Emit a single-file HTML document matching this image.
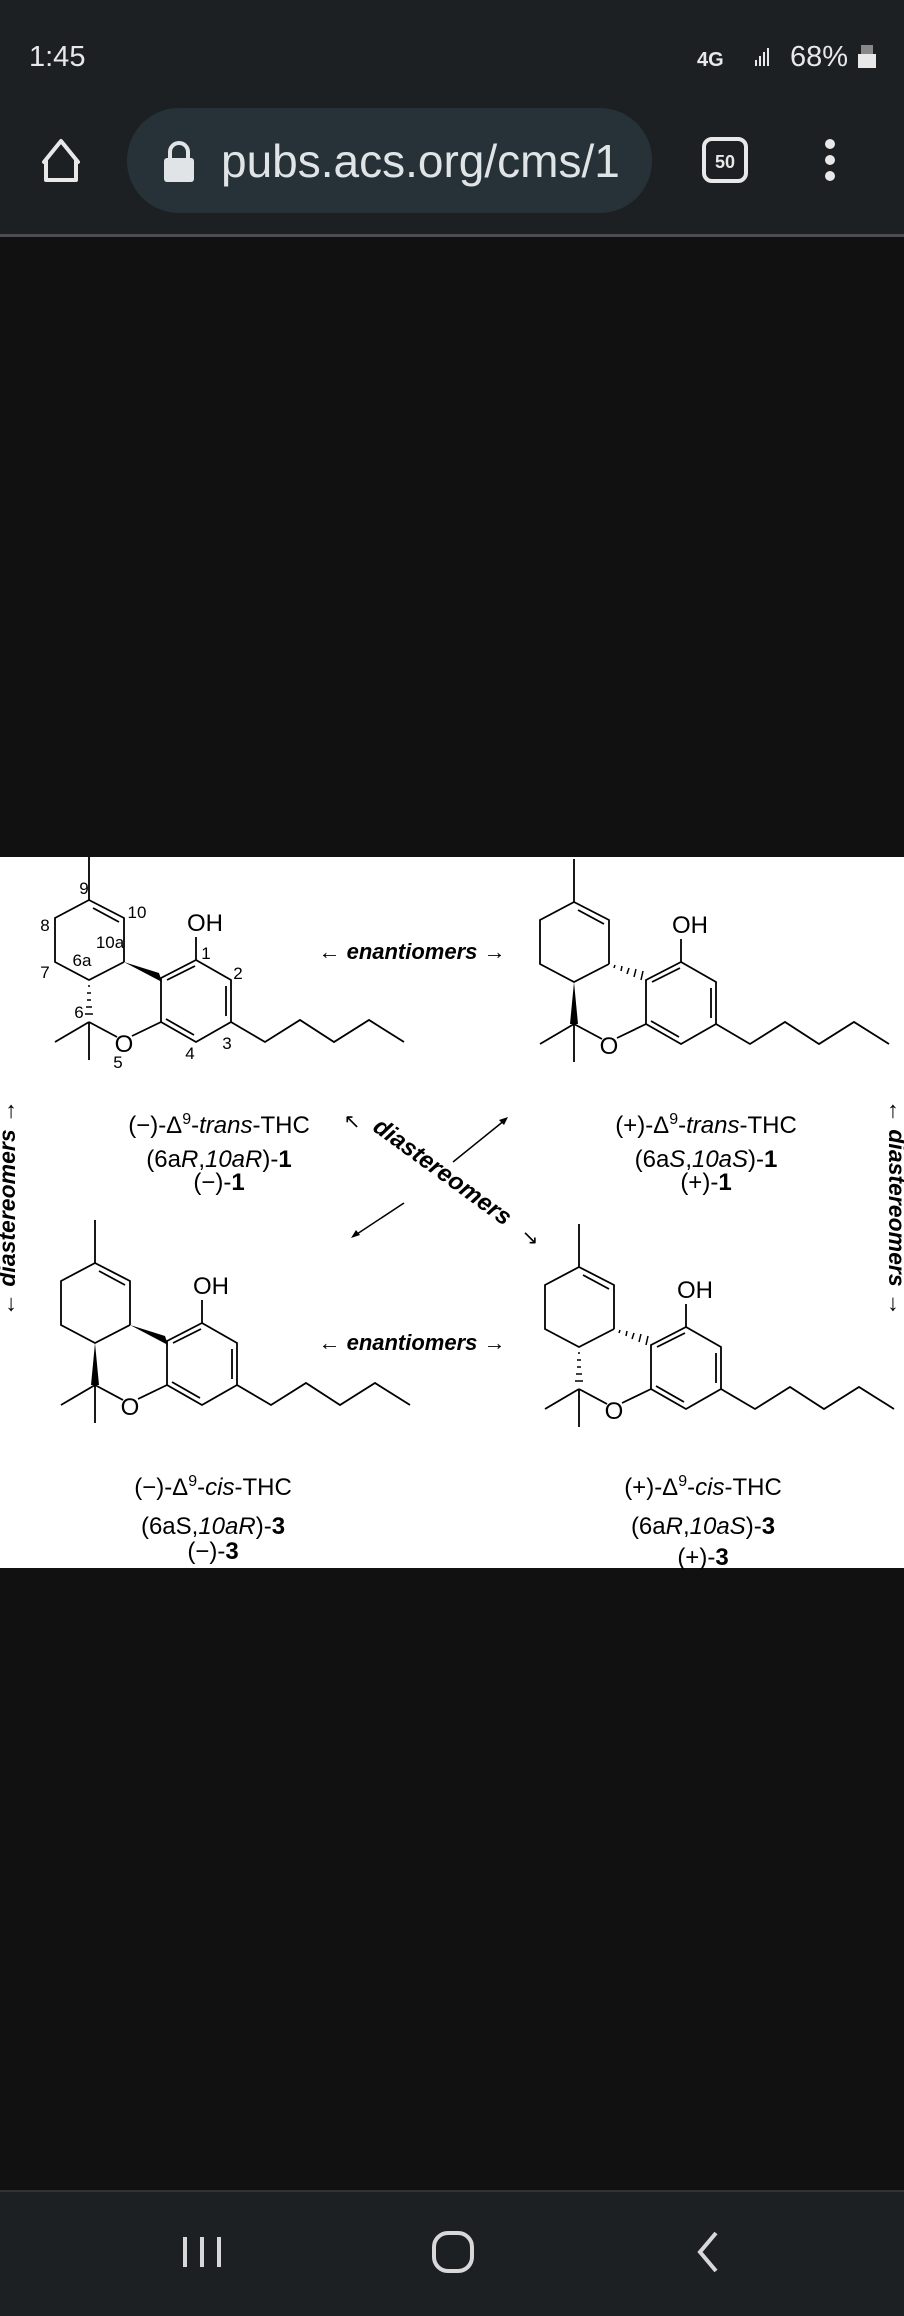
<!DOCTYPE html>
<html><head><meta charset="utf-8"><style>
html,body{margin:0;padding:0;width:904px;height:2316px;overflow:hidden;background:#111111;font-family:"Liberation Sans",sans-serif}
</style></head><body>
<svg width="904" height="2316" viewBox="0 0 904 2316" xmlns="http://www.w3.org/2000/svg" style="position:absolute;left:0;top:0">
<defs>
<g id="mol" stroke="#000" stroke-width="1.8" fill="none">
<polyline points="89,857 89,900 124,918 124,962"/>
<polyline points="89,900 55,918 55,962 89,980 124,962"/>
<line x1="93" y1="908" x2="119" y2="922"/>
<line x1="89" y1="1022" x2="55" y2="1042"/>
<line x1="89" y1="1022" x2="89" y2="1060"/>
<line x1="89" y1="1022" x2="117" y2="1037"/>
<line x1="132" y1="1036" x2="161" y2="1022"/>
<polygon points="161,978 196,960 231,980 231,1022 196,1042 161,1022"/>
<line x1="167" y1="980" x2="195" y2="966"/>
<line x1="226" y1="986" x2="226" y2="1016"/>
<line x1="166" y1="1019" x2="194" y2="1035"/>
<line x1="196" y1="960" x2="196" y2="937"/>
<polyline points="231,1022 265,1042 300,1020 334,1042 369,1020 404,1042"/>
<text x="124" y="1052" font-size="24" fill="#000" stroke="none" text-anchor="middle" font-family="Liberation Sans">O</text>
<text x="205" y="931" font-size="24" fill="#000" stroke="none" text-anchor="middle" font-family="Liberation Sans">OH</text>
</g>
<polygon id="wedgeA" points="124,962 159,973 162,982" fill="#000"/>
<g id="hashA" stroke="#000" stroke-width="1.5"><line x1="130" y1="963" x2="129" y2="966"/><line x1="137" y1="964" x2="136" y2="969"/><line x1="144" y1="966" x2="142" y2="972"/><line x1="151" y1="967" x2="149" y2="975"/><line x1="158" y1="969" x2="156" y2="978"/></g>
<polygon id="wedgeB" points="89,980 85,1022 93,1022" fill="#000"/>
<g id="hashB" stroke="#000" stroke-width="1.5"><line x1="88" y1="986" x2="90" y2="986"/><line x1="87" y1="993" x2="91" y2="993"/><line x1="87" y1="1000" x2="91" y2="1000"/><line x1="86" y1="1007" x2="92" y2="1007"/><line x1="85" y1="1014" x2="93" y2="1014"/></g>
</defs>
<rect x="0" y="0" width="904" height="234" fill="#1c2023"/>
<rect x="0" y="234" width="904" height="3" fill="#4a4d51"/>
<text x="29" y="66" font-size="29" fill="#e8e8e8">1:45</text>
<text x="697" y="66" font-size="20" fill="#e8e8e8" font-weight="bold">4G</text>
<g fill="#e8e8e8"><rect x="755" y="60" width="2" height="6"/><rect x="759" y="56" width="2" height="10"/><rect x="763" y="52" width="2" height="14"/><rect x="767" y="48" width="2" height="18"/></g>
<text x="790" y="66" font-size="29" fill="#e8e8e8">68%</text>
<rect x="858" y="54" width="18" height="14" fill="#e8e8e8"/><rect x="861" y="45" width="12" height="9" fill="#888"/>
<path d="M46,180 V160 L44,162 L61,141 L78,162 L76,160 V180 Z" fill="none" stroke="#e8e8e8" stroke-width="4" stroke-linejoin="round"/>
<rect x="127" y="108" width="525" height="105" rx="52" fill="#263238"/>
<rect x="164" y="158" width="30" height="24" rx="3" fill="#e0e4e6"/>
<path d="M170,158 v-6 a9,9 0 0 1 18,0 v6" fill="none" stroke="#e0e4e6" stroke-width="4"/>
<text x="221" y="177" font-size="46" fill="#e0e4e6">pubs.acs.org/cms/1</text>
<rect x="704" y="139" width="42" height="42" rx="8" fill="none" stroke="#e8e8e8" stroke-width="4"/>
<text x="725" y="168" font-size="18" fill="#e8e8e8" text-anchor="middle" font-weight="bold">50</text>
<circle cx="830" cy="144" r="5" fill="#e8e8e8"/><circle cx="830" cy="160" r="5" fill="#e8e8e8"/><circle cx="830" cy="176" r="5" fill="#e8e8e8"/>
<rect x="0" y="857" width="904" height="711" fill="#fff"/>
<use href="#mol"/><use href="#wedgeA"/><use href="#hashB"/>
<g transform="translate(485,2)"><use href="#mol"/><use href="#hashA"/><use href="#wedgeB"/></g>
<g transform="translate(6,363)"><use href="#mol"/><use href="#wedgeA"/><use href="#wedgeB"/></g>
<g transform="translate(490,367)"><use href="#mol"/><use href="#hashA"/><use href="#hashB"/></g>
<g font-size="17" text-anchor="middle" fill="#000">
<text x="84" y="894">9</text><text x="137" y="918">10</text><text x="45" y="931">8</text><text x="110" y="948">10a</text>
<text x="82" y="966">6a</text><text x="45" y="978">7</text><text x="206" y="959">1</text><text x="238" y="979">2</text>
<text x="79" y="1018">6</text><text x="227" y="1049">3</text><text x="190" y="1059">4</text><text x="118" y="1068">5</text>
</g>
<g font-size="22" font-weight="bold" font-style="italic" text-anchor="middle" fill="#000">
<text x="412" y="959">←  enantiomers  →</text>
<text x="412" y="1350">←  enantiomers  →</text>
<text transform="translate(438,1178) rotate(36)" font-size="24">diastereomers</text>
<text transform="translate(15,1208) rotate(-90)" font-size="23">← diastereomers →</text>
<text transform="translate(889,1208) rotate(90)" font-size="23">← diastereomers →</text>
</g>
<g stroke="#000" stroke-width="1.5" fill="#000">
<text x="352" y="1128" font-size="20" stroke="none" text-anchor="middle">↖</text>
<line x1="453" y1="1162" x2="505" y2="1120"/><polygon points="508,1117 499,1120 504,1125" stroke="none"/>
<line x1="404" y1="1203" x2="354" y2="1236"/><polygon points="351,1238 356,1230 360,1235" stroke="none"/>
<text x="530" y="1244" font-size="20" stroke="none" text-anchor="middle">↘</text>
</g>
<g font-size="24" text-anchor="middle" fill="#000">
<text x="219" y="1133">(−)-Δ<tspan dy="-9" font-size="16">9</tspan><tspan dy="9">-</tspan><tspan font-style="italic">trans</tspan>-THC</text>
<text x="219" y="1167">(6a<tspan font-style="italic">R</tspan>,<tspan font-style="italic">10aR</tspan>)-<tspan font-weight="bold">1</tspan></text>
<text x="219" y="1190">(−)-<tspan font-weight="bold">1</tspan></text>
<text x="706" y="1133">(+)-Δ<tspan dy="-9" font-size="16">9</tspan><tspan dy="9">-</tspan><tspan font-style="italic">trans</tspan>-THC</text>
<text x="706" y="1167">(6a<tspan font-style="italic">S</tspan>,<tspan font-style="italic">10aS</tspan>)-<tspan font-weight="bold">1</tspan></text>
<text x="706" y="1190">(+)-<tspan font-weight="bold">1</tspan></text>
<text x="213" y="1495">(−)-Δ<tspan dy="-9" font-size="16">9</tspan><tspan dy="9">-</tspan><tspan font-style="italic">cis</tspan>-THC</text>
<text x="213" y="1534">(6aS,<tspan font-style="italic">10aR</tspan>)-<tspan font-weight="bold">3</tspan></text>
<text x="213" y="1559">(−)-<tspan font-weight="bold">3</tspan></text>
<text x="703" y="1495">(+)-Δ<tspan dy="-9" font-size="16">9</tspan><tspan dy="9">-</tspan><tspan font-style="italic">cis</tspan>-THC</text>
<text x="703" y="1534">(6a<tspan font-style="italic">R</tspan>,<tspan font-style="italic">10aS</tspan>)-<tspan font-weight="bold">3</tspan></text>
<text x="703" y="1565">(+)-<tspan font-weight="bold">3</tspan></text>
</g>
<rect x="0" y="2190" width="904" height="126" fill="#1c2023"/>
<rect x="0" y="2190" width="904" height="2" fill="#333"/>
<g fill="#d8d8d8"><rect x="183" y="2237" width="4" height="30"/><rect x="200" y="2237" width="4" height="30"/><rect x="217" y="2237" width="4" height="30"/></g>
<rect x="434" y="2233" width="38" height="38" rx="14" fill="none" stroke="#d8d8d8" stroke-width="4"/>
<polyline points="716,2233 700,2252 716,2271" fill="none" stroke="#d8d8d8" stroke-width="4"/>
</svg>
</body></html>
